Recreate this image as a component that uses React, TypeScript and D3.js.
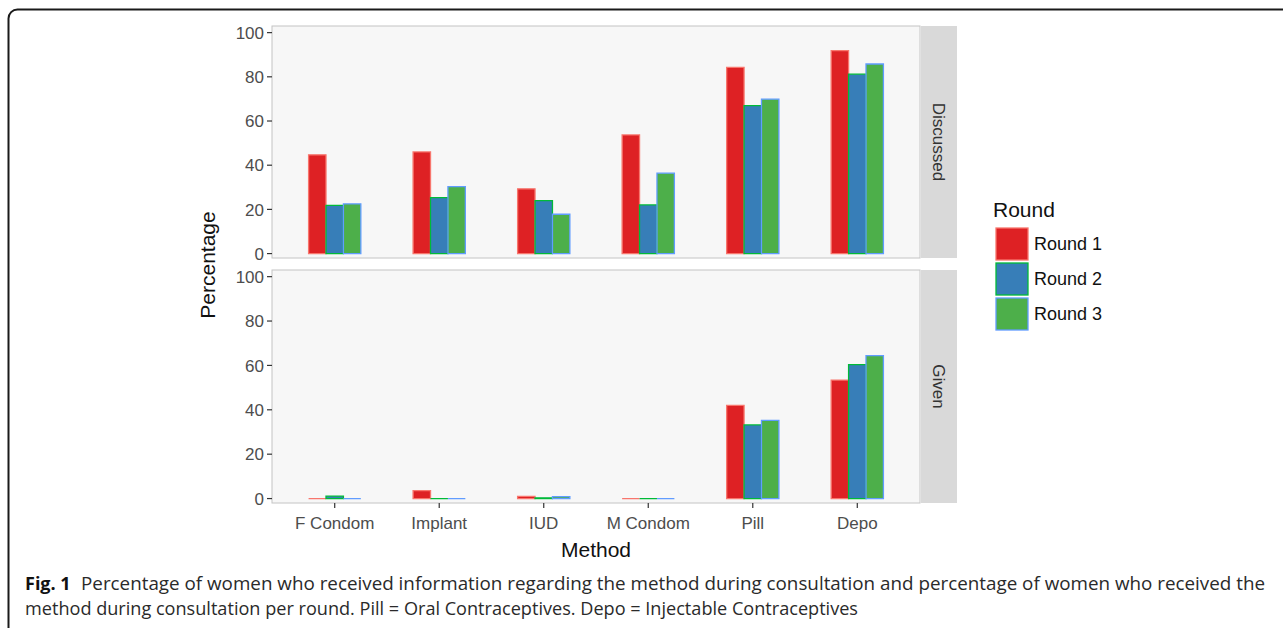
import React from "react";
import * as d3 from "d3";

const methods = ["F Condom", "Implant", "IUD", "M Condom", "Pill", "Depo"];
const rounds = ["Round 1", "Round 2", "Round 3"];
const facets = ["Discussed", "Given"];
const discussedR1 = [44.7, 46.0, 29.3, 53.7, 84.3, 91.9];
const discussedR2 = [21.8, 25.3, 24.0, 22.0, 67.0, 81.2];
const discussedR3 = [22.5, 30.3, 17.8, 36.4, 69.9, 85.8];
const givenR1 = [0, 3.6, 1.0, 0, 42.0, 53.4];
const givenR2 = [1.1, 0, 0.3, 0, 33.2, 60.4];
const givenR3 = [0, 0, 0.9, 0, 35.2, 64.4];
const yTicks = [0, 20, 40, 60, 80, 100];
const fillColors = ["#DE2124", "#377EB8", "#4DAF4A"];
const strokeColors = ["#F8766D", "#00BA38", "#619CFF"];

const facetData = [
  [discussedR1, discussedR2, discussedR3],
  [givenR1, givenR2, givenR3],
];

export default function App() {
  const W = 1283, H = 628;
  const px0 = 272, px1 = 920;
  const panels = [
    { top: 26, bottom: 258 },
    { top: 270, bottom: 503 },
  ];
  const x = d3.scalePoint<string>().domain(methods).range([px0, px1]).padding(0.6);
  const step = x.step();
  const dodge = d3.scaleBand<string>().domain(rounds).range([-step * 0.25, step * 0.25]);
  const axisFont = "Liberation Sans, Arial, sans-serif";

  return (
    <svg width={W} height={H} style={{ position: "absolute", left: 0, top: 0 }}>
      <rect x={0} y={0} width={W} height={H} fill="#fff" />
      <rect x={8.5} y={9.5} width={1300} height={660} rx={9} fill="none" stroke="#1a1a1a" strokeWidth={2} />
      {panels.map((p, fi) => {
        const y = d3.scaleLinear().domain([-2, 103]).range([p.bottom, p.top]);
        const series = facetData[fi];
        return (
          <g key={fi}>
            <rect x={px0} y={p.top} width={px1 - px0} height={p.bottom - p.top} fill="#F7F7F7" stroke="#C4C4C4" strokeWidth={1} />
            {series.map((vals, ri) =>
              vals.map((v, mi) => {
                const xl = (x(methods[mi]) as number) + (dodge(rounds[ri]) as number);
                const bw = dodge.bandwidth();
                const path = d3.path();
                path.moveTo(xl, y(0));
                path.lineTo(xl, y(v));
                path.lineTo(xl + bw, y(v));
                path.lineTo(xl + bw, y(0));
                path.closePath();
                return (
                  <path
                    key={ri + "-" + mi}
                    d={path.toString()}
                    fill={fillColors[ri]}
                    stroke={strokeColors[ri]}
                    strokeWidth={1.3}
                  />
                );
              })
            )}
            {yTicks.map((t) => (
              <g key={t}>
                <line x1={px0 - 5} x2={px0} y1={y(t)} y2={y(t)} stroke="#333" strokeWidth={1.2} />
                <text x={px0 - 8} y={y(t)} dy="0.36em" textAnchor="end" fontFamily={axisFont} fontSize={17} fill="#4D4D4D">
                  {t}
                </text>
              </g>
            ))}
            <rect x={921} y={p.top} width={36} height={p.bottom - p.top} fill="#D9D9D9" />
            <text
              transform={`translate(939,${(p.top + p.bottom) / 2}) rotate(90)`}
              textAnchor="middle"
              dy="0.36em"
              fontFamily={axisFont}
              fontSize={17}
              fill="#333"
            >
              {facets[fi]}
            </text>
          </g>
        );
      })}
      {methods.map((m) => (
        <g key={m}>
          <line x1={x(m)} x2={x(m)} y1={503} y2={508} stroke="#333" strokeWidth={1.2} />
          <text x={x(m)} y={529} textAnchor="middle" fontFamily={axisFont} fontSize={17} fill="#4D4D4D">
            {m}
          </text>
        </g>
      ))}
      <text x={596} y={557} textAnchor="middle" fontFamily={axisFont} fontSize={21} fill="#111">
        Method
      </text>
      <text transform="translate(207,265) rotate(-90)" textAnchor="middle" dy="0.36em" fontFamily={axisFont} fontSize={21} fill="#111">
        Percentage
      </text>
      <text x={993} y={217} fontFamily={axisFont} fontSize={21} fill="#111">
        Round
      </text>
      {rounds.map((r, i) => (
        <g key={r}>
          <rect x={996} y={228 + i * 35} width={32} height={32} fill={fillColors[i]} stroke={strokeColors[i]} strokeWidth={1.3} />
          <text x={1034} y={244 + i * 35} dy="0.36em" fontFamily={axisFont} fontSize={18} fill="#111">
            {r}
          </text>
        </g>
      ))}
      <text x={25} y={590} fontFamily="Open Sans, sans-serif" fontSize={18} fontWeight="bold" fill="#111">
        Fig. 1
      </text>
      <text x={81} y={590} fontFamily="Open Sans, sans-serif" fontSize={18} fill="#2a2a2a" textLength={1184} lengthAdjust="spacingAndGlyphs">
        Percentage of women who received information regarding the method during consultation and percentage of women who received the
      </text>
      <text x={25} y={615} fontFamily="Open Sans, sans-serif" fontSize={18} fill="#2a2a2a" textLength={833} lengthAdjust="spacingAndGlyphs">
        method during consultation per round. Pill = Oral Contraceptives. Depo = Injectable Contraceptives
      </text>
    </svg>
  );
}
